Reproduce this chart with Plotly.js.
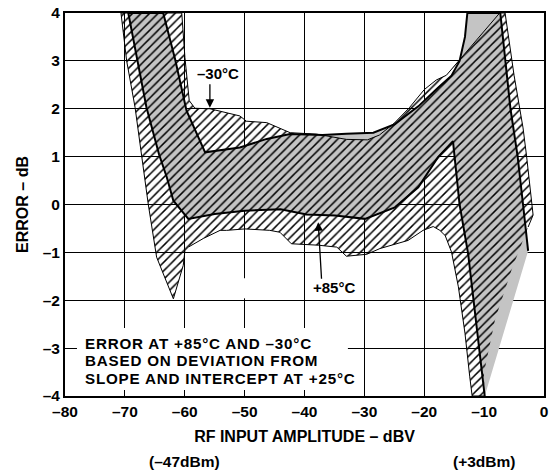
<!DOCTYPE html>
<html><head><meta charset="utf-8">
<script src="https://cdn.plot.ly/plotly-3.0.1.min.js"></script>
<style>html,body{margin:0;padding:0;background:#fff}</style>
</head><body><div id="chart" style="width:551px;height:470px"></div>
<script>
// Axis ticks
const xTickVals = [-80, -70, -60, -50, -40, -30, -20, -10, 0];
const xTickText = ['–80', '–70', '–60', '–50', '–40', '–30', '–20', '–10', '0'];
const yTickVals = [-4, -3, -2, -1, 0, 1, 2, 3, 4];
const yTickText = ['–4', '–3', '–2', '–1', '0', '1', '2', '3', '4'];

// Solid gray band (RF input dBV, error dB) - closing edge (lower-right wedge) has no outline
const grayX = [-9.9, -10.7, -11.7, -12.67, -14.1, -15.2, -17.7, -21.0, -24.9, -29.9, -34.9, -39.65, -44.0, -50.0, -55.0, -59.4,
  -61.9, -63.0, -64.3, -66.4, -68.0, -69.43, -63.6, -61.6, -59.7, -56.6, -50.8, -46.3, -42.4, -37.0, -33.0, -28.5,
  -24.9, -21.0, -17.7, -15.45, -14.1, -13.2, -12.8, -7.3, -5.6, -4.4, -3.5, -2.65];
const grayY = [-4.0, -3.11, -2.1, -1.03, 0.0, 1.32, 0.99, 0.36, -0.06, -0.30, -0.23, -0.21, -0.10, -0.13, -0.20, -0.30,
  0.08, 0.57, 1.05, 2.03, 3.07, 4.0, 4.0, 3.03, 1.96, 1.09, 1.19, 1.37, 1.47, 1.45, 1.48, 1.50,
  1.68, 2.05, 2.44, 2.69, 3.0, 3.5, 4.0, 4.0, 2.0, 1.0, 0.0, -0.97];

// Hatched band (white background, diagonal hatching); last 3 edges have no outline
const hatchX = [-9.9, -12.0, -12.4, -13.2, -14.3, -15.45, -16.5, -17.4, -18.5, -20.2, -22.7, -25.0, -27.4, -29.6, -33.0,
  -34.6, -37.7, -42.2, -44.1, -45.8, -49.95, -53.0, -54.1, -56.9, -59.4, -59.97, -60.25, -61.9, -64.7, -66.1, -67.2,
  -68.3, -69.7, -70.65, -60.5, -59.97, -59.25, -58.3, -55.8, -50.8, -49.7, -46.3, -42.4, -38.0, -33.0, -29.5, -27.5,
  -25.0, -22.5, -20.0, -18.0, -16.3, -7.4, -6.5, -5.0, -3.5, -2.9, -1.82, -2.65, -5.44, -8.2, -10.05];
const hatchY = [-4.0, -4.0, -3.6, -2.69, -1.72, -0.99, -0.65, -0.54, -0.46, -0.54, -0.75, -0.84, -0.92, -1.04, -1.08,
  -0.89, -0.85, -0.82, -0.58, -0.54, -0.51, -0.54, -0.54, -0.71, -0.89, -0.96, -1.27, -1.97, -1.10, 0.01, 0.99,
  2.03, 3.0, 4.0, 4.0, 3.07, 2.17, 2.01, 2.0, 1.85, 1.74, 1.71, 1.50, 1.47, 1.36, 1.35, 1.45,
  1.70, 2.02, 2.40, 2.60, 2.70, 4.0, 4.0, 2.7, 1.6, 1.0, -0.22, -0.47, -1.375, -2.42, -3.53];

// Text labels
const tempLabels = ['–30°C', '+85°C'];
const noteLines = ['ERROR AT +85°C AND –30°C', 'BASED ON DEVIATION FROM', 'SLOPE AND INTERCEPT AT +25°C'];
const dbmLabels = ['(–47dBm)', '(+3dBm)'];
const dbmAt = [-60, -10];

const FONT = 'Liberation Sans, Arial, Helvetica, sans-serif';
const bold = (s) => ({family: FONT, size: s, color: '#000', weight: 'bold'});

const traces = [
  {x: grayX, y: grayY, type: 'scatter', mode: 'lines', fill: 'toself', fillcolor: '#c4c4c4',
   line: {width: 0, color: 'rgba(0,0,0,0)'}, hoverinfo: 'skip', showlegend: false},
  {x: hatchX, y: hatchY, type: 'scatter', mode: 'lines', fill: 'toself', fillcolor: 'rgba(0,0,0,0)',
   fillpattern: {shape: '/', size: 6, solidity: 0.25, fgcolor: '#000', bgcolor: 'rgba(0,0,0,0)', fgopacity: 1},
   line: {width: 0, color: 'rgba(0,0,0,0)'}, hoverinfo: 'skip', showlegend: false},
  {x: hatchX.slice(0, hatchX.length - 3), y: hatchY.slice(0, hatchY.length - 3), type: 'scatter', mode: 'lines',
   line: {width: 1, color: '#000'}, hoverinfo: 'skip', showlegend: false},
  {x: grayX, y: grayY, type: 'scatter', mode: 'lines',
   line: {width: 2, color: '#000'}, hoverinfo: 'skip', showlegend: false}
];

const noteLine = (i, y) => ({x: -77.0, y: y, showarrow: false, xanchor: 'left', yanchor: 'middle',
  text: '<span style="letter-spacing:0.8px">' + noteLines[i] + '</span>', font: bold(15.2)});

const annotations = [
  {x: -54.37, y: 2.73, text: tempLabels[0], showarrow: false, font: bold(15)},
  {x: -55.8, y: 2.02, text: '', showarrow: true, ax: 0, ay: -25, arrowhead: 2, arrowsize: 1.3, arrowwidth: 1.3, arrowcolor: '#000'},
  {x: -35.09, y: -1.74, text: tempLabels[1], showarrow: false, font: bold(15)},
  {x: -37.71, y: -0.37, text: '', showarrow: true, ax: 3.4, ay: 58, arrowhead: 2, arrowsize: 1.3, arrowwidth: 1.3, arrowcolor: '#000'},
  noteLine(0, -2.9),
  noteLine(1, -3.265),
  noteLine(2, -3.63),
  {x: dbmAt[0], y: -0.171, yref: 'paper', yanchor: 'middle', text: dbmLabels[0], showarrow: false, font: bold(15.5)},
  {x: dbmAt[1], y: -0.171, yref: 'paper', yanchor: 'middle', text: dbmLabels[1], showarrow: false, font: bold(15.5)}
];

const shapes = [
  {type: 'rect', layer: 'above', x0: -78.0, x1: -32.75, y0: -3.875, y1: -2.58, fillcolor: '#fff', line: {width: 0}},
  {type: 'rect', layer: 'above', x0: -50.4, x1: -49.6, y0: -1.96, y1: -1.54, fillcolor: '#fff', line: {width: 0}}
];

const layout = {
  width: 551, height: 470,
  margin: {l: 65, r: 7, t: 13, b: 74},
  paper_bgcolor: '#fff', plot_bgcolor: '#fff',
  font: {family: FONT, color: '#000'},
  xaxis: {range: [-80, 0], tickvals: xTickVals, ticktext: xTickText, tickfont: bold(15.5),
    showgrid: true, gridcolor: '#000', gridwidth: 1, zeroline: false,
    showline: true, linecolor: '#000', linewidth: 2, mirror: true, ticks: '',
    title: {text: 'RF INPUT AMPLITUDE – dBV', font: bold(16), standoff: 12}, fixedrange: true},
  yaxis: {range: [-4, 4], tickvals: yTickVals, ticktext: yTickText, tickfont: bold(15.5),
    showgrid: true, gridcolor: '#000', gridwidth: 1, zeroline: false,
    showline: true, linecolor: '#000', linewidth: 2, mirror: true, ticks: '',
    title: {text: 'ERROR – dB', font: bold(16), standoff: 10}, fixedrange: true},
  annotations: annotations,
  shapes: shapes,
  showlegend: false
};

Plotly.newPlot('chart', traces, layout, {displayModeBar: false, staticPlot: true});
</script></body></html>
